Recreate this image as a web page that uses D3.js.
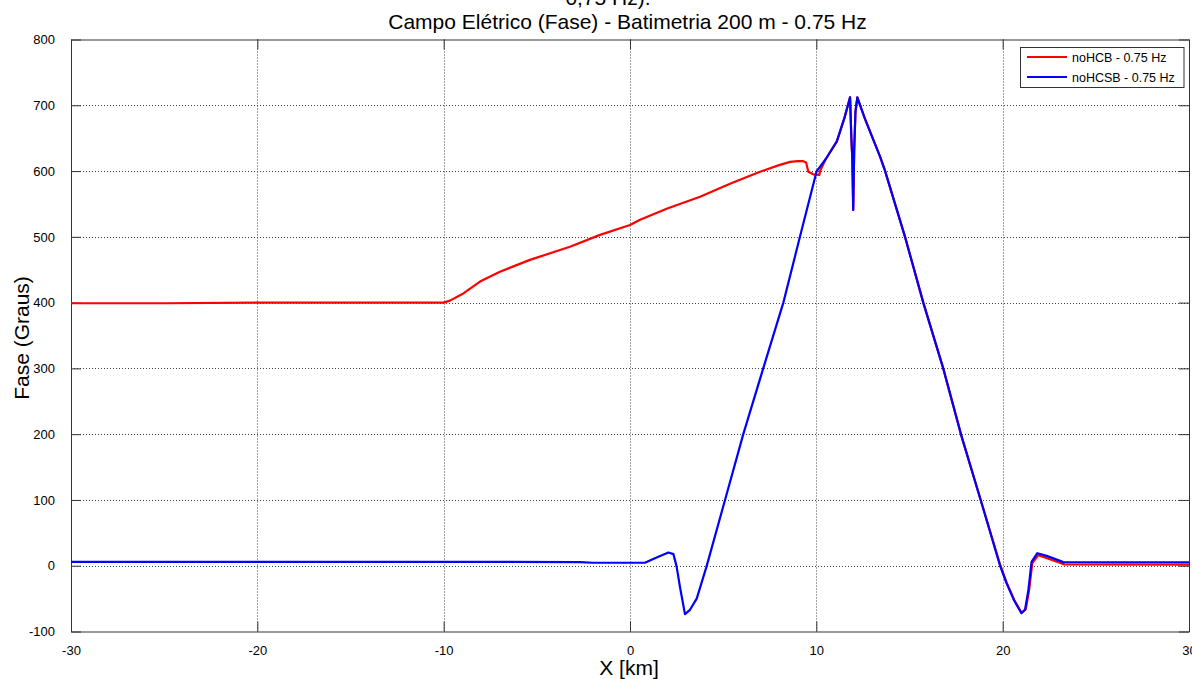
<!DOCTYPE html>
<html>
<head>
<meta charset="utf-8">
<script src="https://cdn.jsdelivr.net/npm/d3@7"></script>
<style>
  html, body { margin: 0; padding: 0; background: #fff; }
  svg { display: block; font-family: "Liberation Sans", Arial, Helvetica, sans-serif; }
</style>
</head>
<body>
<svg id="chart" width="1192" height="679"></svg>
<script>
// Phase of the electric field along the profile, in degrees, per model
const xTicks = [-30, -20, -10, 0, 10, 20, 30];
const yTicks = [-100, 0, 100, 200, 300, 400, 500, 600, 700, 800];

const seriesNames = ["noHCB - 0.75 Hz", "noHCSB - 0.75 Hz"];
const seriesColors = ["#ff0000", "#0000ff"];

// noHCB: [X (km), phase (degrees)]
const noHCB = [
  [-30, 399], [-25, 399], [-20, 400], [-15, 400], [-10.02, 400], [-9.66, 403],
  [-9.0, 413], [-8.05, 432], [-6.98, 447], [-5.37, 465], [-3.22, 485], [-1.61, 503],
  [0, 518], [0.54, 526], [2.0, 543], [3.76, 561], [5.4, 581], [6.98, 599],
  [8.0, 609], [8.59, 614], [9.0, 615], [9.3, 615], [9.45, 613], [9.57, 599],
  [9.84, 595], [10.16, 594], [10.2, 600], [10.5, 618], [11.1, 645], [11.5, 680],
  [11.81, 712], [11.88, 650], [11.93, 620], [11.98, 541], [12.03, 630], [12.1, 690],
  [12.2, 712], [12.6, 680], [13.42, 622], [13.68, 601], [14.76, 500], [15.74, 400],
  [16.81, 300], [17.77, 199], [18.82, 100], [19.88, 0], [20.22, -26], [20.62, -52],
  [21.02, -72], [21.24, -66], [21.42, -37], [21.59, 4], [21.92, 16], [22.42, 11],
  [23.1, 4], [23.3, 2], [30, 1.5]
];

// noHCSB: [X (km), phase (degrees)]
const noHCSB = [
  [-30, 6], [-20, 6], [-10, 6], [-2.68, 5.5], [-2, 4.5], [0, 4.5], [0.8, 4.5],
  [1.43, 12.5], [2.06, 20], [2.33, 17.6], [2.5, -1], [2.68, -32], [2.95, -73.6],
  [3.22, -67], [3.58, -50], [4.11, -1], [5.1, 100], [6.08, 200], [7.15, 300],
  [8.23, 400], [9.12, 500], [10.02, 600], [10.5, 618], [11.1, 645], [11.5, 680],
  [11.81, 712], [11.88, 650], [11.93, 620], [11.98, 541], [12.03, 630], [12.1, 690],
  [12.2, 712], [12.6, 680], [13.42, 622], [13.68, 601], [14.76, 500], [15.74, 400],
  [16.81, 300], [17.77, 199], [18.82, 100], [19.86, 0], [20.2, -26], [20.6, -52],
  [21.0, -72], [21.2, -67], [21.38, -37], [21.55, 6], [21.86, 19], [22.36, 15],
  [23.08, 7.4], [23.25, 5.5], [30, 5]
];

const svg = d3.select("#chart");
const L = 71, R = 1189, T = 39.5, B = 631.5;

const x = d3.scaleLinear().domain([-30, 30]).range([L, R]);
const y = d3.scaleLinear().domain([-100, 800]).range([B, T]);

// Dotted grid
const grid = svg.append("g").attr("stroke", "#444").attr("stroke-width", 1)
  .attr("stroke-dasharray", "1,2");
grid.selectAll("line.gx").data(xTicks.slice(1, -1)).enter().append("line")
  .attr("x1", d => Math.round(x(d)) + 0.5).attr("x2", d => Math.round(x(d)) + 0.5)
  .attr("y1", T).attr("y2", B);
grid.selectAll("line.gy").data(yTicks.slice(1, -1)).enter().append("line")
  .attr("y1", d => Math.round(y(d)) + 0.5).attr("y2", d => Math.round(y(d)) + 0.5)
  .attr("x1", L).attr("x2", R);

// Axes with inward ticks on all four sides; plain hyphen for negatives
const tickLen = 10;
const fmt = d => String(d);
const axisBottom = d3.axisBottom(x).tickValues(xTicks).tickFormat(fmt).tickSizeInner(-tickLen).tickSizeOuter(0).tickPadding(14);
const axisTop = d3.axisTop(x).tickValues(xTicks).tickSizeInner(-tickLen).tickSizeOuter(0).tickFormat("");
const axisLeft = d3.axisLeft(y).tickValues(yTicks).tickFormat(fmt).tickSizeInner(-tickLen).tickSizeOuter(0).tickPadding(16);
const axisRight = d3.axisRight(y).tickValues(yTicks).tickSizeInner(-tickLen).tickSizeOuter(0).tickFormat("");

function styleAxis(g) {
  g.selectAll("path").attr("stroke", "#333");
  g.selectAll("line").attr("stroke", "#333");
  g.selectAll("text").attr("fill", "#000").attr("font-size", "13px")
    .attr("font-family", "Liberation Sans, Arial, sans-serif");
}
svg.append("g").attr("transform", `translate(0,${B})`).call(axisBottom).call(styleAxis);
svg.append("g").attr("transform", `translate(0,${T})`).call(axisTop).call(styleAxis);
svg.append("g").attr("transform", `translate(${L},0)`).call(axisLeft).call(styleAxis);
svg.append("g").attr("transform", `translate(${R},0)`).call(axisRight).call(styleAxis);

// Data lines
svg.append("defs").append("clipPath").attr("id", "plotClip")
  .append("rect").attr("x", L).attr("y", T).attr("width", R - L).attr("height", B - T);

const line = d3.line().x(d => x(d[0])).y(d => y(d[1]));
const plot = svg.append("g").attr("clip-path", "url(#plotClip)");
[noHCB, noHCSB].forEach((s, i) => {
  plot.append("path").datum(s)
    .attr("fill", "none")
    .attr("stroke", seriesColors[i])
    .attr("stroke-width", 2.2)
    .attr("stroke-linejoin", "round")
    .attr("d", line);
});

// Titles
svg.append("text").attr("x", 608).attr("y", 5).attr("text-anchor", "middle")
  .attr("font-size", "21px").text("0,75 Hz).");
svg.append("text").attr("x", 627.5).attr("y", 29).attr("text-anchor", "middle")
  .attr("font-size", "21px").text("Campo Elétrico (Fase) - Batimetria 200 m - 0.75 Hz");

// Axis labels
svg.append("text").attr("x", 629).attr("y", 675).attr("text-anchor", "middle")
  .attr("font-size", "21px").text("X [km]");
svg.append("text").attr("transform", "translate(29,338) rotate(-90)")
  .attr("text-anchor", "middle").attr("font-size", "21px").text("Fase (Graus)");

// Legend
const lg = svg.append("g");
lg.append("rect").attr("x", 1020.5).attr("y", 47.5).attr("width", 163.5).attr("height", 40)
  .attr("fill", "#fff").attr("stroke", "#333").attr("stroke-width", 1);
seriesNames.forEach((name, i) => {
  const yy = 57 + i * 20;
  lg.append("line").attr("x1", 1027).attr("x2", 1067).attr("y1", yy).attr("y2", yy)
    .attr("stroke", seriesColors[i]).attr("stroke-width", 2);
  lg.append("text").attr("x", 1072).attr("y", yy + 4.5).attr("font-size", "12.5px")
    .text(name);
});
</script>
</body>
</html>
